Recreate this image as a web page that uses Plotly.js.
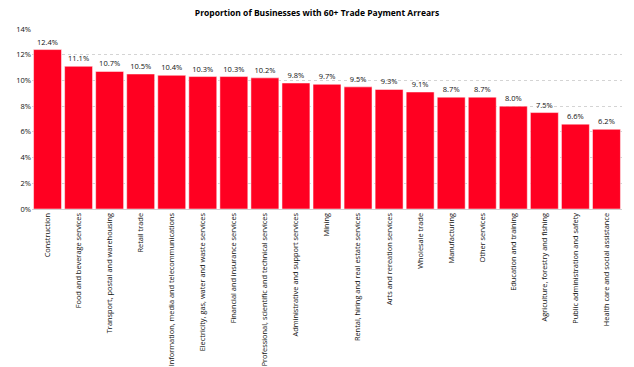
<!DOCTYPE html>
<html><head><meta charset="utf-8">
<script src="https://cdn.plot.ly/plotly-3.0.1.min.js"></script>
<style>html,body{margin:0;padding:0;background:#fff}#chart{width:634px;height:367px}</style>
</head><body><div id="chart"></div>
<script>
const industries = [
  "Construction",
  "Food and beverage services",
  "Transport, postal and warehousing",
  "Retail trade",
  "Information, media and telecommunications",
  "Electricity, gas, water and waste services",
  "Financial and insurance services",
  "Professional, scientific and technical services",
  "Administrative and support services",
  "Mining",
  "Rental, hiring and real estate services",
  "Arts and rereation services",
  "Wholesale trade",
  "Manufacturing",
  "Other services",
  "Education and training",
  "Agriculture, forestry and fishing",
  "Public administration and safety",
  "Health care and social assistance"
];
const proportion = [0.124,0.111,0.107,0.105,0.104,0.103,0.103,0.102,0.098,0.097,0.095,0.093,0.091,0.087,0.087,0.080,0.075,0.066,0.062];
const yTickVals = [0,0.02,0.04,0.06,0.08,0.10,0.12,0.14];

const trace = {
  type: 'bar',
  x: industries,
  y: proportion,
  marker: {color: '#FF0021', line: {color: '#ffffff', width: 0.5}},
  texttemplate: '%{y:.1%}',
  textposition: 'outside',
  cliponaxis: false,
  textfont: {family: 'Open Sans, sans-serif', size: 7.5, color: '#111'},
  hoverinfo: 'none'
};

const layout = {
  width: 634, height: 367,
  margin: {l: 32, r: 12, t: 29, b: 158},
  paper_bgcolor: '#fff', plot_bgcolor: '#fff',
  bargap: 0.1,
  showlegend: false,
  title: {
    text: '<b>Proportion of Businesses with 60+ Trade Payment Arrears</b>',
    font: {family: 'Open Sans, sans-serif', size: 8.5, color: '#000'},
    x: 0.5, xanchor: 'center', y: 0.965, yanchor: 'middle'
  },
  xaxis: {
    type: 'category',
    tickangle: -90,
    automargin: false,
    ticklabelstandoff: 0,
    tickfont: {family: 'Open Sans, sans-serif', size: 7.4, color: '#111'},
    showline: true, linecolor: '#d0d0d0', linewidth: 1,
    ticks: '', showgrid: false
  },
  yaxis: {
    range: [0, 0.14],
    tickvals: yTickVals,
    tickformat: '.0%',
    tickfont: {family: 'Open Sans, sans-serif', size: 7.5, color: '#111'},
    showgrid: true, gridcolor: '#d4d4d4', griddash: 'dot', gridwidth: 1,
    zeroline: false, showline: false, ticks: ''
  }
};

Plotly.newPlot('chart', [trace], layout, {displayModeBar: false, staticPlot: true});
</script></body></html>
